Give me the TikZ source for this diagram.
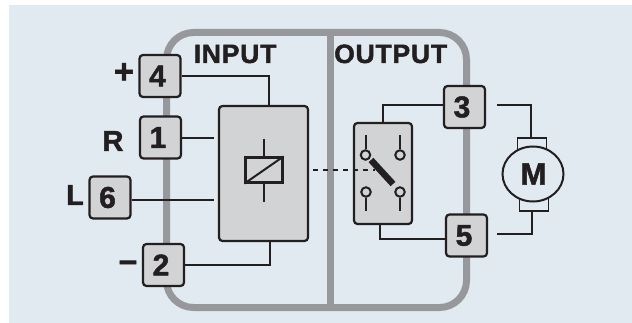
\documentclass[tikz,border=0pt]{standalone}
\usepackage{fontspec}
\setmainfont[BoldFeatures={FakeBold=1.6}]{Liberation Sans}
\usepackage{tikz}
\usetikzlibrary{positioning}
\definecolor{panelblue}{RGB}{225,234,240}
\definecolor{framegray}{RGB}{150,152,155}
\definecolor{boxgray}{RGB}{209,211,212}
\definecolor{inkblack}{RGB}{35,31,32}
\newcommand{\lblfont}[1]{\fontsize{#1}{#1}\selectfont\bfseries}
\newcommand{\tnum}[1]{#1\kern5pt}
\tikzset{
    wire/.style={draw=inkblack, line width=2pt},
    terminal/.style={draw=inkblack, fill=boxgray, line width=2.2pt, rounded corners=3.5pt, minimum width=41pt, minimum height=42pt, inner sep=0pt, text=inkblack, font=\lblfont{30}},
    unitbox/.style={draw=inkblack, fill=boxgray, line width=2.2pt, rounded corners=3.5pt, inner sep=0pt},
    sign/.style={inner sep=0pt, text=inkblack, font=\lblfont{28}},
    head/.style={inner sep=0pt, text=inkblack, font=\lblfont{26.5}},
    contact/.style={circle, draw=inkblack, fill=boxgray, line width=2pt, minimum size=9.5pt, inner sep=0pt},
}
\begin{document}
\begin{tikzpicture}[x=1pt, y=-1pt]
    \useasboundingbox (0,0) rectangle (632,323);
    \fill[panelblue] (9,5) rectangle (632,323);

    % Housing
    \node[draw=framegray, line width=7pt, rounded corners=27pt, minimum width=300pt, minimum height=275pt, inner sep=0pt] at (316.5,170) (housing) {};
    \coordinate (divtop) at (330.5,32.5);
    \coordinate (divbot) at (330.5,307.5);
    \draw[framegray, line width=7pt] (divtop) -- (divbot);

    \node[head, anchor=base west] at (193.5,63) (input) {\addfontfeature{LetterSpace=3}INPUT};
    \node[head, anchor=base west] at (334,63) (output) {\addfontfeature{LetterSpace=3}OUTPUT};

    % Inner units
    \node[unitbox, minimum width=89pt, minimum height=135pt] at (263.5,173.5) (relay) {};
    \node[unitbox, minimum width=58pt, minimum height=101pt] at (383,173.5) (switch) {};

    % Terminals
    \node[terminal] at (160,76) (t4) {\tnum{4}};
    \node[terminal] at (160.5,137.5) (t1) {\tnum{1}};
    \node[terminal] at (110,197.5) (t6) {\tnum{6}};
    \node[terminal] at (163.5,265) (t2) {\tnum{2}};
    \node[terminal] at (464.5,107) (t3) {\tnum{3}};
    \node[terminal] at (466.5,235.5) (t5) {\tnum{5}};

    % Signs
    \node[sign, font=\lblfont{34}] at (124,73) (plus) {+};
    \node[sign, font=\lblfont{29}] at (113,141) (rlabel) {R};
    \node[sign, font=\lblfont{29}] at (75,195) (llabel) {L};
    \node[sign, font=\lblfont{33}] at (128,266) (minus) {–};

    % Input wiring
    \coordinate (r1) at (214,138);
    \coordinate (r6) at (214,200);
    \draw[wire] (t4.east |- 0,76) -- (269,76) -- (269,105);
    \draw[wire] (t1.east |- r1) -- (r1);
    \draw[wire] (t6.east |- r6) -- (r6);
    \draw[wire] (t2.east) -- (270,265) -- (270,242);

    % Coil
    \node[draw=inkblack, line width=2.2pt, minimum width=37pt, minimum height=25pt, inner sep=0pt] at (264,170) (coil) {};
    \coordinate (coiltop) at (263.5,139);
    \coordinate (coilbot) at (263.5,202);
    \draw[wire] (coiltop) -- (coiltop |- coil.north);
    \draw[wire] (coilbot) -- (coilbot |- coil.south);
    \draw[wire] (coil.south west) -- (coil.north east);

    % Link
    \coordinate (linkend) at (375,170);
    \draw[inkblack, line width=2pt, dash pattern=on 5pt off 5pt] (313,170) -- (linkend);

    % Switch wiring
    \draw[wire] (t3.west |- 0,105.5) -- (383,105.5) -- (switch.north);
    \draw[wire] (t5.west |- 0,239) -- (380,239) -- (380,225);

    % Contacts
    \node[contact] at (365.5,155) (c1) {};
    \node[contact] at (400,155) (c2) {};
    \node[contact] at (366,192) (c3) {};
    \node[contact] at (400,192) (c4) {};
    \draw[wire] (c1.north) -- ++(0,-14);
    \draw[wire] (c2.north) -- ++(0,-14);
    \draw[wire] (c3.south) -- ++(0,13);
    \draw[wire] (c4.south) -- ++(0,13);
    \coordinate (bladea) at (371,160);
    \coordinate (bladeb) at (393,184);
    \draw[inkblack, line width=6.5pt] (bladea) -- (bladeb);

    % Motor
    \node[draw=inkblack, line width=1.8pt, minimum width=29pt, minimum height=14pt, inner sep=0pt] at (532,145) (brushtop) {};
    \node[draw=inkblack, line width=1.8pt, minimum width=29pt, minimum height=14pt, inner sep=0pt] at (534,204) (brushbot) {};
    \fill[panelblue] (533,174) ellipse (30.5pt and 27.5pt);
    \draw[inkblack, line width=2pt] (533,174) ellipse (30.5pt and 27.5pt);
    \node[inner sep=0pt, text=inkblack, font=\lblfont{31}] at (533.5,174) (motor) {M};
    \coordinate (m3) at (497,105.5);
    \coordinate (m5) at (497,234.5);
    \draw[wire] (m3) -- (531,105.5) -- (531,138);
    \draw[wire] (m5) -- (532,234.5) -- (532,211);
\end{tikzpicture}
\end{document}
